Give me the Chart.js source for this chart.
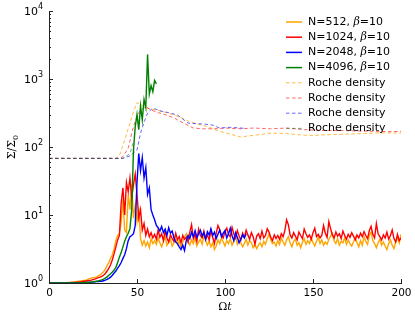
<!DOCTYPE html>
<html>
<head>
<meta charset="utf-8">
<script src="https://cdn.jsdelivr.net/npm/chart.js@4"></script>
<style>
  html, body { margin: 0; padding: 0; background: #fff; }
  #wrap { width: 415px; height: 318px; }
</style>
</head>
<body>
<div id="wrap"><canvas id="c" width="415" height="318"></canvas></div>
<script>
// sampled once per unit of Omega t, starting at t = 0
const n512 = [
  1,1,1,1,1,1,1,1,1.01,1.01,
  1.01,1.02,1.02,1.03,1.03,1.04,1.05,1.06,1.07,1.08,
  1.09,1.1,1.13,1.16,1.18,1.2,1.21,1.23,1.27,1.32,
  1.38,1.47,1.6,1.8,2.0,2.3,2.6,3.2,4.2,5.0,
  5.3,8,17,6,5.5,20,12,28,9,14,
  8,13,4.5,3.6,4.2,3.5,4,3.3,4.5,3.8,
  4.2,3.7,4.6,3.9,3.4,4.1,4.8,3.6,4.0,4.4,
  3.5,3.9,4.5,3.7,4.2,3.3,4.0,4.7,5.3,4.1,
  3.6,4.3,3.8,4.6,3.5,4.0,4.4,3.7,4.9,4.2,
  3.6,4.1,3.4,3.9,3.1,3.5,4.3,3.8,4.6,4.0,
  3.5,4.2,3.8,4.5,3.6,4.1,4.9,3.7,4.3,3.9,
  3.4,3.8,4.4,3.6,4.2,3.9,3.3,3.7,3.2,3.6,
  3.9,3.4,4.1,3.7,4.5,5.2,4.3,3.8,4.0,3.5,
  4.2,3.7,4.6,4.0,3.6,4.3,4.8,3.9,3.4,4.1,
  4.4,3.6,3.9,3.3,4.0,4.5,3.7,4.2,3.8,4.6,
  3.9,3.5,4.1,4.7,3.8,4.3,3.6,4.0,3.7,4.4,
  4.9,5.4,4.2,3.8,4.5,3.6,4.1,3.9,4.6,3.7,
  4.3,3.8,3.5,4.0,4.7,3.9,3.4,4.2,3.6,4.8,
  4.1,3.7,5.0,5.6,4.2,3.8,3.3,3.9,4.4,3.6,
  4.0,3.5,3.1,3.8,4.3,3.6,3.2,4.0,4.6,3.9,
  5.2
];
const n1024 = [
  1,1,1,1,1,1,1,1,1,1,
  1.01,1.01,1.01,1.02,1.02,1.02,1.03,1.03,1.04,1.05,
  1.06,1.07,1.08,1.09,1.1,1.12,1.14,1.17,1.2,1.22,
  1.25,1.3,1.38,1.5,1.65,1.85,2.2,2.7,3.4,4.3,
  5.0,15,25,10,30,22,35,18,28,40,
  20,9,12,6,7.5,5,6.2,4.8,5.5,4.6,
  5.2,4.4,6.0,4.7,5.3,4.2,5.8,4.6,4.0,5.1,
  4.5,4.1,5.4,4.3,4.8,3.9,5.0,4.4,4.7,4.0,
  5.6,7.2,4.5,5.2,4.1,6.2,5.0,4.6,5.8,4.4,
  5.1,4.3,5.9,4.7,3.8,5.4,7.0,6.1,5.0,4.6,
  5.7,6.4,5.2,4.8,6.6,5.3,4.6,5.9,4.9,4.3,
  5.4,4.7,6.0,5.1,4.4,5.5,4.8,3.7,4.9,5.3,
  4.5,5.8,4.6,5.0,6.3,5.6,4.7,4.2,5.1,4.5,
  5.0,4.4,5.3,4.8,5.9,8.5,7.2,5.1,4.6,5.5,
  4.9,4.3,5.6,5.0,4.5,6.2,5.3,4.7,5.1,4.4,
  5.5,6.4,4.8,5.2,4.6,5.0,7.0,5.4,4.7,8.0,
  6.3,5.1,4.6,5.6,4.9,5.3,4.5,5.8,5.0,4.4,
  5.2,4.7,5.5,4.9,4.3,5.1,4.6,5.4,4.8,5.7,
  5.0,4.5,5.9,6.8,5.2,4.6,7.5,5.3,4.8,4.3,
  5.1,4.6,5.6,4.4,5.0,6.0,4.5,4.0,5.2,4.2,
  4.6
];
const n2048 = [
  1,1,1,1,1,1,1,1,1,1,
  1,1,1,1,1,1,1.01,1.01,1.01,1.01,
  1.01,1.02,1.02,1.02,1.03,1.03,1.04,1.05,1.05,1.06,
  1.06,1.08,1.1,1.13,1.17,1.22,1.3,1.4,1.5,1.65,
  1.8,2.0,2.3,2.6,3.2,4.2,4.8,5.0,5.3,7,
  30,80,45,70,35,50,20,25,12,10,
  8.5,7,6.5,5.8,6.8,5.5,6.2,5.0,6.5,5.4,
  5.8,4.6,4.0,3.8,3.4,3.1,3.6,3.0,4.2,5.0,
  4.5,5.6,4.8,5.9,4.7,5.3,6.0,4.9,5.5,4.4,
  5.7,5.1,6.3,5.0,5.6,4.5,5.2,6.0,4.8,5.4,
  5.9,4.6,5.3,6.4,5.0,4.2,5.5,4.7,3.9,4.4,
  5.1,4.6,5.3
];
const n4096 = [
  1,1,1,1,1,1,1,1,1,1,
  1,1,1,1,1,1,1,1,1.01,1.01,
  1.01,1.02,1.02,1.03,1.03,1.04,1.05,1.06,1.07,1.09,
  1.11,1.14,1.18,1.23,1.3,1.37,1.45,1.55,1.7,2.0,
  2.4,2.8,3.4,4.1,4.8,5.4,6.3,12,90,200,
  300,180,400,250,500,380,2300,600,800,650,
  950,850
];

// Roche density curves: time and value pairs
const rocheT512  = [0,38,40,43,46,48,50,52,55,58,61,65,71,76,80,85,90,97,103,109,113,118,126,135,143,150,160,170,180,190,200];
const roche512   = [68,68,75,126,225,330,450,420,380,360,350,330,295,265,234,215,200,170,155,140,145,150,160,158,150,148,152,155,158,162,160];
const rocheT1024 = [0,40,42,45,48,50,52,55,58,62,66,71,75,82,88,94,100,109,116,126,135,145,155,165,175,185,195,200];
const roche1024  = [68,68,72,96,200,280,350,390,350,320,300,268,235,190,185,185,190,185,190,185,190,180,175,175,172,170,168,170];
const rocheT2048 = [0,42,46,50,52,54,56,59,63,68,73,79,84,88,93,97,103,109,112];
const roche2048  = [68,68,74,90,160,230,316,375,340,320,295,225,220,218,210,190,195,190,188];
const rocheT4096 = [0,42,46,48];
const roche4096  = [68,68,80,120];

const legendLabels = ['N=512', 'N=1024', 'N=2048', 'N=4096'];
const yTicks = [1, 10, 100, 1000, 10000];
const xTicks = [0, 50, 100, 150, 200];

const solidColors = ['#ffa500', '#ff0000', '#0000ff', '#008000'];
const dashColors = ['rgba(255,165,0,0.75)', 'rgba(255,0,0,0.6)', 'rgba(0,0,255,0.6)', 'rgba(30,110,30,0.55)'];

function perUnit(vals) { return vals.map((v, i) => ({x: i, y: v})); }
function paired(ts, vals) { return ts.map((t, i) => ({x: t, y: vals[i]})); }

const solids = [n512, n1024, n2048, n4096];
const roche = [[rocheT512, roche512], [rocheT1024, roche1024], [rocheT2048, roche2048], [rocheT4096, roche4096]];

const datasets = [];
solids.forEach((s, i) => {
  datasets.push({
    data: perUnit(s), borderColor: solidColors[i], borderWidth: 1.4,
    pointRadius: 0, tension: 0, order: 3 - i
  });
});
roche.forEach((r, i) => {
  datasets.push({
    data: paired(r[0], r[1]), borderColor: dashColors[i], borderWidth: 1,
    borderDash: [3.5, 2.5], pointRadius: 0, tension: 0, order: 7 - i
  });
});

const decor = {
  id: 'decor',
  afterDraw(chart) {
    const {ctx, chartArea: a, scales: {x, y}} = chart;
    ctx.save();
    ctx.strokeStyle = '#222';
    ctx.lineWidth = 1;
    ctx.fillStyle = '#000';
    // y ticks, inward
    yTicks.forEach((v, e) => {
      const py = Math.round(y.getPixelForValue(v)) + 0.5;
      ctx.beginPath(); ctx.moveTo(a.left, py); ctx.lineTo(a.left + 4, py); ctx.stroke();
      if (e < 4) {
        for (let m = 2; m <= 9; m++) {
          const my = Math.round(y.getPixelForValue(v * m)) + 0.5;
          ctx.beginPath(); ctx.moveTo(a.left, my); ctx.lineTo(a.left + 2, my); ctx.stroke();
        }
      }
      // label 10^e
      ctx.font = '11px "DejaVu Sans"';
      const wb = ctx.measureText('10').width;
      ctx.font = '8px "DejaVu Sans"';
      const we = ctx.measureText(String(e)).width;
      const right = a.left - 6;
      ctx.textBaseline = 'middle';
      ctx.textAlign = 'left';
      ctx.font = '11px "DejaVu Sans"';
      ctx.fillText('10', right - we - wb, py + 0.5);
      ctx.font = '8px "DejaVu Sans"';
      ctx.fillText(String(e), right - we, py - 5);
    });
    // x ticks
    ctx.font = '10.5px "DejaVu Sans"';
    ctx.textAlign = 'center';
    ctx.textBaseline = 'top';
    xTicks.forEach(v => {
      const px = Math.round(x.getPixelForValue(v)) + 0.5;
      ctx.beginPath(); ctx.moveTo(px, a.bottom); ctx.lineTo(px, a.bottom - 4); ctx.stroke();
      ctx.fillText(String(v), px, a.bottom + 5);
    });
    // axis titles
    ctx.textBaseline = 'alphabetic';
    ctx.textAlign = 'left';
    ctx.font = '11px "DejaVu Serif"';
    const wO = ctx.measureText('\u03a9').width;
    ctx.font = 'italic 11px "DejaVu Serif"';
    const wt = ctx.measureText('t').width;
    const cx = (a.left + a.right) / 2 - (wO + wt) / 2;
    ctx.font = '11px "DejaVu Serif"';
    ctx.fillText('\u03a9', cx, 310);
    ctx.font = 'italic 11px "DejaVu Serif"';
    ctx.fillText('t', cx + wO, 310);

    ctx.save();
    ctx.translate(15, (a.top + a.bottom) / 2);
    ctx.rotate(-Math.PI / 2);
    ctx.font = '11px "DejaVu Serif"';
    const w1 = ctx.measureText('\u03a3/\u03a3').width;
    ctx.font = '8px "DejaVu Serif"';
    const w2 = ctx.measureText('0').width;
    const sx = -(w1 + w2) / 2;
    ctx.font = '11px "DejaVu Serif"';
    ctx.fillText('\u03a3/\u03a3', sx, 0);
    ctx.font = '8px "DejaVu Serif"';
    ctx.fillText('0', sx + w1, 3);
    ctx.restore();

    // legend
    const lx0 = 286, lx1 = 302, tx = 308;
    ctx.textBaseline = 'middle';
    for (let i = 0; i < 8; i++) {
      const ly = 22 + i * 15.2;
      ctx.beginPath();
      if (i < 4) {
        ctx.setLineDash([]);
        ctx.strokeStyle = solidColors[i];
        ctx.lineWidth = 1.5;
      } else {
        ctx.setLineDash([3.5, 2.5]);
        ctx.strokeStyle = dashColors[i - 4];
        ctx.lineWidth = 1;
      }
      ctx.moveTo(lx0, ly); ctx.lineTo(lx1, ly); ctx.stroke();
      ctx.setLineDash([]);
      ctx.fillStyle = '#000';
      if (i < 4) {
        let px = tx;
        const part1 = legendLabels[i] + ', ';
        ctx.font = '11px "DejaVu Sans"';
        ctx.fillText(part1, px, ly);
        px += ctx.measureText(part1).width;
        ctx.font = 'italic 11px "DejaVu Serif"';
        ctx.fillText('\u03b2', px, ly);
        px += ctx.measureText('\u03b2').width;
        ctx.font = '11px "DejaVu Sans"';
        ctx.fillText('=10', px, ly);
      } else {
        ctx.font = '11px "DejaVu Sans"';
        ctx.fillText('Roche density', tx, ly);
      }
    }
    ctx.restore();
  }
};

new Chart(document.getElementById('c'), {
  type: 'line',
  data: {datasets},
  options: {
    responsive: false,
    animation: false,
    layout: {padding: {left: 0, right: 14, top: 11, bottom: 0}},
    plugins: {legend: {display: false}, tooltip: {enabled: false}},
    scales: {
      x: {
        type: 'linear', min: 0, max: 200,
        grid: {display: false},
        border: {display: true, color: '#222', width: 1},
        ticks: {display: false},
        afterFit: s => { s.height = 35; }
      },
      y: {
        type: 'logarithmic', min: 1, max: 10000,
        grid: {display: false},
        border: {display: true, color: '#222', width: 1},
        ticks: {display: false},
        afterFit: s => { s.width = 49; }
      }
    }
  },
  plugins: [decor]
});
</script>
</body>
</html>
